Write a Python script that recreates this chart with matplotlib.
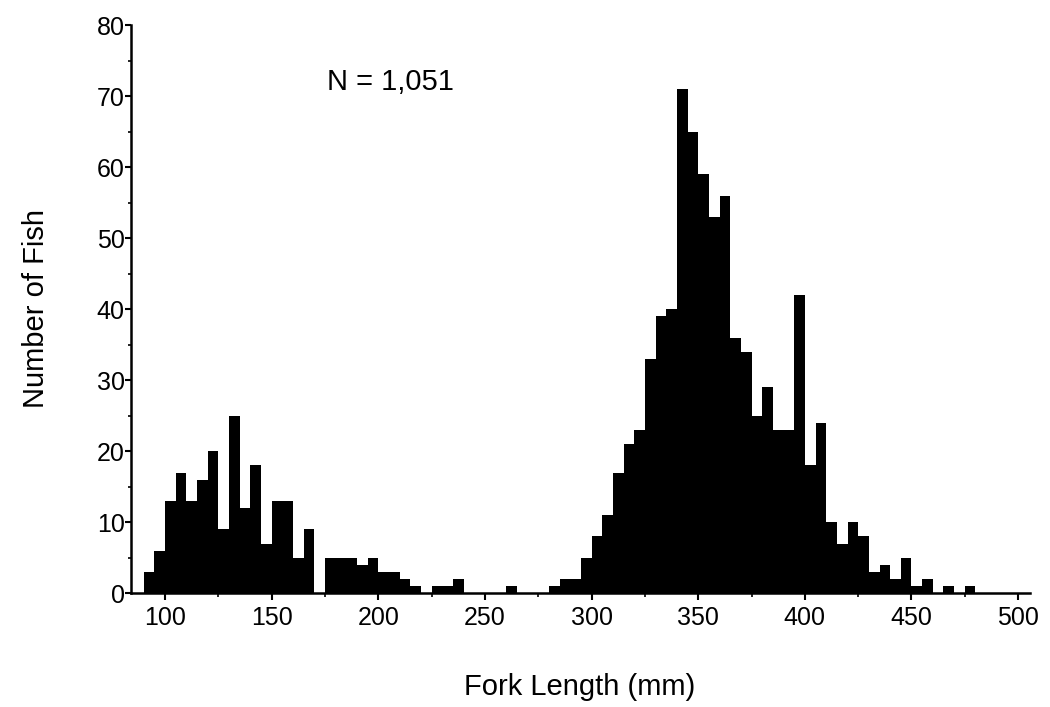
import numpy as np
import matplotlib
matplotlib.use("Agg")
import matplotlib.pyplot as plt
from matplotlib.ticker import MultipleLocator

plt.rcParams['font.family'] = ['Liberation Sans', 'DejaVu Sans']

# 5 mm length classes (left edge of each bin), 90 .. 495 mm
bin_edges = np.arange(90, 500, 5)
counts = [3, 6, 13, 17, 13, 16, 20, 9, 25, 12,      # 90-135
          18, 7, 13, 13, 5, 9, 0, 5, 5, 5,          # 140-185
          4, 5, 3, 3, 2, 1, 0, 1, 1, 2,             # 190-235
          0, 0, 0, 0, 1, 0, 0, 0, 1, 2,             # 240-285
          2, 5, 8, 11, 17, 21, 23, 33, 39, 40,      # 290-335
          71, 65, 59, 53, 56, 36, 34, 25, 29, 23,   # 340-385
          23, 42, 18, 24, 10, 7, 10, 8, 3, 4,       # 390-435
          2, 5, 1, 2, 0, 1, 0, 1, 0, 0,             # 440-485
          0, 0]                                     # 490-495
x_ticks = [100, 150, 200, 250, 300, 350, 400, 450, 500]
y_ticks = [0, 10, 20, 30, 40, 50, 60, 70, 80]
n_total = sum(counts)

fig = plt.figure(figsize=(10.5, 7.07), dpi=100)
ax = fig.add_axes([0.1248, 0.1608, 0.8562, 0.8038])

ax.bar(bin_edges, counts, width=5, align='edge', color='black', linewidth=0)

ax.set_xlim(84, 505.6)
ax.set_ylim(0, 80)
ax.set_xticks(x_ticks)
ax.set_yticks(y_ticks)
ax.xaxis.set_minor_locator(MultipleLocator(25))
ax.yaxis.set_minor_locator(MultipleLocator(5))

for side in ['top', 'right']:
    ax.spines[side].set_visible(False)
for side in ['left', 'bottom']:
    ax.spines[side].set_linewidth(1.8)

ax.tick_params(axis='x', which='major', direction='out', length=5, width=1.5,
               pad=4, labelsize=18)
ax.tick_params(axis='x', which='minor', direction='out', length=3, width=1.2)
ax.tick_params(axis='y', which='major', direction='out', length=4, width=1.5,
               pad=0.5, labelsize=18)
ax.tick_params(axis='y', which='minor', direction='out', length=2.5, width=1.2)

ax.text(176, 70.8, "N = {:,}".format(n_total), fontsize=21, ha='left', va='baseline')

fig.text(580 / 1050, 1 - 695 / 707, "Fork Length (mm)", fontsize=21,
         ha='center', va='baseline')
fig.text(36 / 1050, 1 - 309 / 707, "Number of Fish", fontsize=21,
         rotation=90, ha='center', va='center')

fig.savefig("out.png", dpi=100)
